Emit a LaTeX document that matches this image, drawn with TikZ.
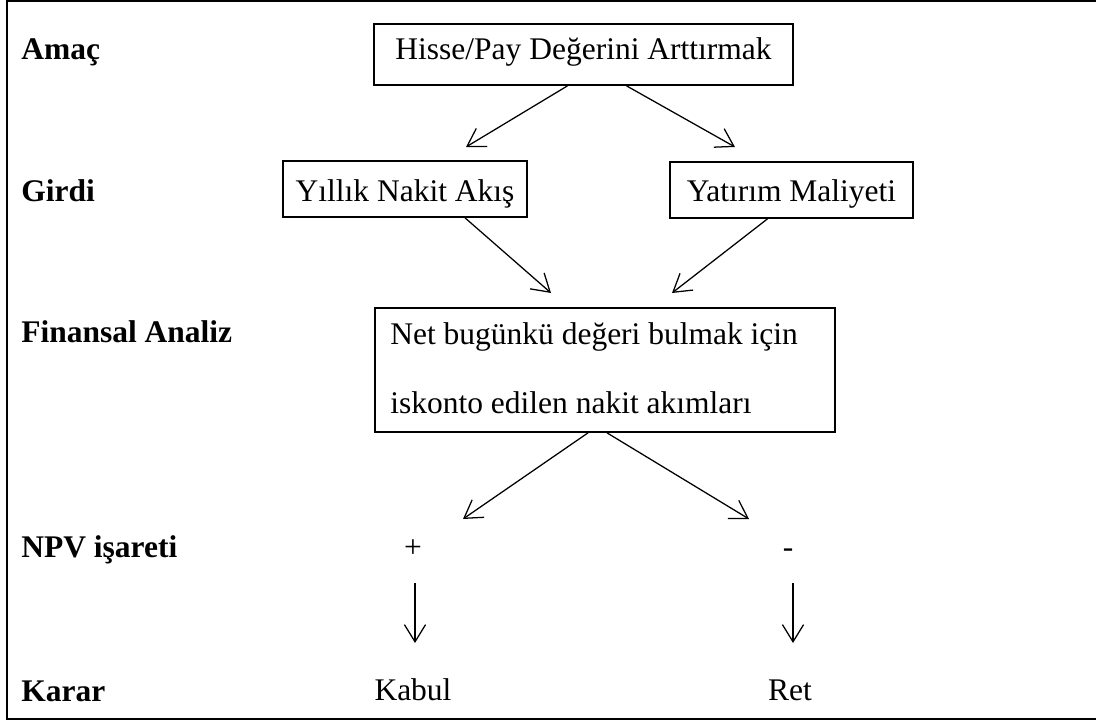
\documentclass[tikz,border=0pt]{standalone}
\usepackage{fontspec}
\setmainfont{Liberation Serif}
\usetikzlibrary{arrows.meta}

\begin{document}
\begin{tikzpicture}[x=0.025cm, y=-0.025cm,
    every node/.style={font=\fontsize{22.4}{27}\selectfont, inner sep=0pt},
    rowlabel/.style={anchor=base west, font=\fontsize{22.4}{27}\selectfont\bfseries},
    plain/.style={anchor=base},
    boxed/.style={draw, line width=1.2pt},
    flow/.style={line width=0.9pt, -{Straight Barb[length=0.43cm, width=0.53cm]}},
  ]
  \useasboundingbox (0,0) rectangle (1096,720);

  % outer frame (its right side lies past the page edge)
  \draw[line width=1.4pt] (7,1) rectangle (1110,719);

  % row labels
  \node[rowlabel] (lamac)  at (21,60)  {Amaç};
  \node[rowlabel] (lgirdi) at (21,202) {Girdi};
  \node[rowlabel] (lfin)   at (21,343) {Finansal Analiz};
  \node[rowlabel] (lnpv)   at (21,557) {NPV işareti};
  \node[rowlabel] (lkarar) at (21,701) {Karar};

  % boxes
  \node[boxed, minimum width=10.475cm, text height=0.9cm, text depth=0.625cm]
    (goal) at (583.5,54.5) {Hisse/Pay Değerini Arttırmak};
  \node[boxed, minimum width=6.1cm, text height=1.025cm, text depth=0.375cm]
    (cash) at (405,189) {Yıllık Nakit Akış};
  \node[boxed, minimum width=6.075cm, text height=1.0cm, text depth=0.4cm]
    (cost) at (791.5,190) {Yatırım Maliyeti};
  \node[boxed, minimum width=11.5cm, minimum height=3.1cm]
    (npvbox) at (605,370) {};
  \node[anchor=base west] (npvA) at (390,345) {Net bugünkü değeri bulmak için};
  \node[anchor=base west] (npvB) at (390,414) {iskonto edilen nakit akımları};

  % signs and decisions
  \node[plain] (plus)  at (413,557) {+};
  \node[plain] (minus) at (788,557) {-};
  \node[plain] (kabul) at (413,700) {Kabul};
  \node[plain] (ret)   at (790,700) {Ret};

  % arrow end points
  \coordinate (g1) at (466,147);
  \coordinate (g2) at (735,147);
  \coordinate (c1) at (551,293);
  \coordinate (c2) at (672,293);
  \coordinate (n1) at (463,519);
  \coordinate (n2) at (749,519);
  \coordinate (k1) at (415,643);
  \coordinate (r1) at (793,643);

  % connectors
  \draw[flow] ([xshift=-0.4cm]goal.south) -- (g1);
  \draw[flow] ([xshift=1.075cm]goal.south) -- (g2);
  \draw[flow] ([xshift=1.5cm]cash.south) -- (c1);
  \draw[flow] ([xshift=-0.6cm]cost.south) -- (c2);
  \draw[flow] ([xshift=-0.425cm]npvbox.south) -- (n1);
  \draw[flow] ([xshift=0.05cm]npvbox.south) -- (n2);
  \draw[flow] ([yshift=-0.65cm]plus.south -| k1) -- (k1);
  \draw[flow] ([yshift=-0.65cm]minus.south -| r1) -- (r1);
\end{tikzpicture}
\end{document}
